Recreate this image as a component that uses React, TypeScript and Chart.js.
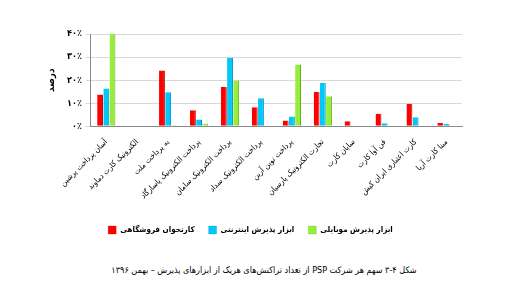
import React, { useEffect, useRef } from "react";
import { Chart, registerables } from "chart.js";

Chart.register(...registerables);

const categories = [
  "آسان پرداخت پرشین",
  "الکترونیک کارت دماوند",
  "به پرداخت ملت",
  "پرداخت الکترونیک پاسارگاد",
  "پرداخت الکترونیک سامان",
  "پرداخت الکترونیک سداد",
  "پرداخت نوین آرین",
  "تجارت الکترونیک پارسیان",
  "سایان کارت",
  "فن آوا کارت",
  "کارت اعتباری ایران کیش",
  "مبنا کارت آریا",
];

const posTerminal = [13.8, 0.3, 24.2, 7, 17, 8.3, 2.5, 14.9, 2.2, 5.5, 9.7, 1.5];
const internetGateway = [16.4, 0.3, 14.8, 3, 29.7, 12.2, 4.3, 18.8, 0.4, 1.4, 3.9, 1];
const mobileGateway = [40, 0.3, 0.5, 1.2, 19.9, 0.3, 26.8, 13, 0.3, 0.3, 0.3, 0.3];

const seriesNames = ["کارتخوان فروشگاهی", "ابزار پذیرش اینترنتی", "ابزار پذیرش موبایلی"];
const yTicks = [0, 10, 20, 30, 40];
const yTitle = "درصد";
const caption = "شکل ۴-۳ سهم هر شرکت PSP از تعداد تراکنش‌های هریک از ابزارهای پذیرش – بهمن ۱۳۹۶";

const faDigits = (n: number) =>
  String(n).replace(/\d/g, (d) => "۰۱۲۳۴۵۶۷۸۹"[Number(d)]);

export default function App() {
  const ref = useRef<HTMLCanvasElement | null>(null);
  useEffect(() => {
    if (!ref.current) return;
    const font = "'DejaVu Sans Condensed', 'DejaVu Sans', sans-serif";
    const chart = new Chart(ref.current, {
      type: "bar",
      data: {
        labels: categories,
        datasets: [
          { label: seriesNames[0], data: posTerminal, backgroundColor: "#ff0000", borderColor: "#c00000", borderWidth: { right: 1 } as any },
          { label: seriesNames[1], data: internetGateway, backgroundColor: "#00c8f8", borderColor: "#0090c0", borderWidth: { right: 1 } as any },
          { label: seriesNames[2], data: mobileGateway, backgroundColor: "#96ee3a", borderColor: "#60b020", borderWidth: { right: 1 } as any },
        ],
      },
      options: {
        animation: false,
        responsive: false,
        maintainAspectRatio: false,
        layout: { padding: { top: 26, right: 58, left: 31, bottom: 4 } },
        datasets: { bar: { categoryPercentage: 0.6, barPercentage: 0.95 } },
        plugins: {
          legend: {
            position: "bottom",
            labels: {
              boxWidth: 8,
              boxHeight: 8,
              padding: 14,
              color: "#000",
              font: { family: font, size: 8, weight: "bold" },
            },
          },
          tooltip: { enabled: false },
        },
        scales: {
          x: {
            grid: { display: false },
            border: { color: "#8a8a8a" },
            afterFit: (axis: any) => {
              axis.height += 8;
            },
            ticks: {
              autoSkip: false,
              minRotation: 45,
              maxRotation: 45,
              color: "#000",
              padding: 3,
              font: { family: font, size: 8 },
            },
          },
          y: {
            min: 0,
            max: 40,
            afterBuildTicks: (axis: any) => {
              axis.ticks = yTicks.map((v) => ({ value: v }));
            },
            grid: { color: "#d9d9d9", tickLength: 5 },
            border: { color: "#8a8a8a" },
            ticks: {
              color: "#000",
              padding: 4,
              font: { family: font, size: 9, weight: "bold" },
              callback: (v: any) => faDigits(v) + "٪",
            },
            title: {
              display: true,
              text: yTitle,
              color: "#000",
              padding: 6,
              font: { family: font, size: 10, weight: "bold" },
            },
          },
        },
      },
    });
    return () => chart.destroy();
  }, []);
  return (
    <div style={{ width: 512 }}>
      <canvas ref={ref} width={512} height={240} style={{ display: "block" }} />
      <div
        dir="rtl"
        style={{
          marginTop: 14,
          textAlign: "center",
          fontFamily: "'DejaVu Sans Condensed', 'DejaVu Sans', sans-serif",
          fontSize: 9,
          lineHeight: "16px",
          color: "#000",
        }}
      >
        {caption}
      </div>
    </div>
  );
}
